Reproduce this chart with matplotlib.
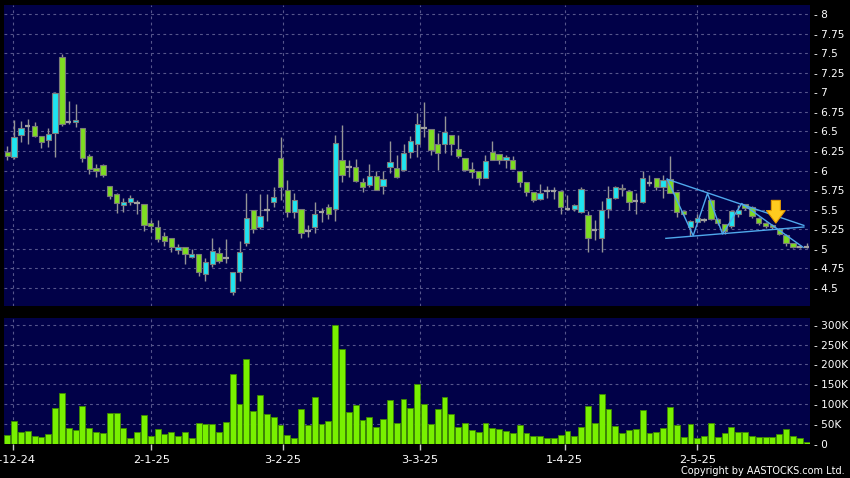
import matplotlib
matplotlib.use("Agg")
import matplotlib.pyplot as plt
import numpy as np

# ---------------- data ----------------
opens = [6.24, 6.17, 6.45, 6.57, 6.57, 6.44, 6.39, 6.48, 7.45, 6.62,
         6.62, 6.54, 6.19, 6.03, 6.07, 5.80, 5.70, 5.56, 5.60, 5.59,
         5.58, 5.33, 5.28, 5.17, 5.14, 4.98, 5.03, 4.90, 4.93, 4.68,
         4.81, 4.95, 4.88, 4.45, 4.70, 5.08, 5.50, 5.28, 5.50, 5.60,
         6.16, 5.75, 5.47, 5.51, 5.23, 5.28, 5.47, 5.53, 5.51, 6.14,
         6.05, 6.04, 5.86, 5.82, 5.93, 5.80, 6.05, 6.03, 6.01, 6.24,
         6.34, 6.54, 6.53, 6.34, 6.34, 6.45, 6.28, 6.16, 6.02, 5.99,
         5.91, 6.24, 6.21, 6.13, 6.14, 6.00, 5.85, 5.73, 5.64, 5.74,
         5.74, 5.74, 5.51, 5.51, 5.47, 5.43, 5.24, 5.14, 5.51, 5.65,
         5.78, 5.74, 5.61, 5.60, 5.84, 5.90, 5.79, 5.89, 5.73, 5.48,
         5.28, 5.34, 5.37, 5.62, 5.38, 5.32, 5.29, 5.44, 5.57, 5.54,
         5.40, 5.33, 5.31, 5.26, 5.18, 5.07, 5.02, 5.03]
highs = [6.32, 6.65, 6.63, 6.66, 6.62, 6.44, 6.54, 6.99, 7.49, 6.89,
         6.85, 6.54, 6.21, 6.09, 6.08, 5.80, 5.71, 5.65, 5.69, 5.62,
         5.58, 5.37, 5.37, 5.21, 5.14, 5.06, 5.03, 5.00, 4.93, 4.89,
         5.14, 5.03, 5.13, 4.71, 5.10, 5.71, 5.50, 5.70, 5.70, 5.79,
         6.43, 5.88, 5.71, 5.51, 5.31, 5.60, 5.52, 5.58, 6.45, 6.58,
         6.14, 6.15, 5.91, 6.08, 5.99, 5.99, 6.38, 6.20, 6.34, 6.44,
         6.73, 6.88, 6.53, 6.48, 6.70, 6.45, 6.46, 6.16, 6.11, 5.99,
         6.20, 6.38, 6.21, 6.20, 6.19, 6.00, 5.85, 5.73, 5.83, 5.80,
         5.79, 5.74, 5.69, 5.58, 5.79, 5.48, 5.37, 5.61, 5.80, 5.80,
         5.83, 5.75, 5.72, 5.99, 5.95, 5.90, 5.95, 6.19, 5.73, 5.49,
         5.37, 5.45, 5.40, 5.64, 5.40, 5.32, 5.50, 5.56, 5.58, 5.55,
         5.41, 5.35, 5.32, 5.27, 5.19, 5.08, 5.04, 5.07]
lows = [6.13, 6.15, 6.36, 6.34, 6.43, 6.29, 6.30, 6.18, 6.57, 6.60,
        6.56, 6.11, 5.96, 5.92, 5.92, 5.64, 5.46, 5.47, 5.56, 5.45,
        5.23, 5.22, 5.09, 5.04, 4.96, 4.93, 4.81, 4.88, 4.65, 4.59,
        4.77, 4.82, 4.82, 4.41, 4.59, 5.04, 5.20, 5.26, 5.36, 5.53,
        5.62, 5.41, 5.40, 5.14, 5.15, 5.20, 5.34, 5.38, 5.36, 5.85,
        5.92, 5.85, 5.73, 5.79, 5.75, 5.70, 5.97, 5.90, 6.00, 6.16,
        6.18, 6.43, 6.20, 6.01, 6.22, 6.20, 6.16, 6.00, 5.91, 5.81,
        5.90, 6.13, 6.08, 6.03, 6.02, 5.79, 5.67, 5.60, 5.62, 5.65,
        5.64, 5.45, 5.50, 5.48, 5.46, 4.96, 5.11, 4.96, 5.39, 5.64,
        5.67, 5.50, 5.45, 5.59, 5.80, 5.75, 5.65, 5.71, 5.41, 5.43,
        5.16, 5.33, 5.34, 5.37, 5.31, 5.19, 5.27, 5.41, 5.50, 5.40,
        5.30, 5.27, 5.26, 5.18, 5.04, 5.01, 5.01, 5.01]
closes = [6.19, 6.43, 6.55, 6.57, 6.44, 6.37, 6.47, 6.99, 6.60, 6.62,
          6.65, 6.16, 6.02, 5.99, 5.95, 5.67, 5.59, 5.60, 5.65, 5.59,
          5.31, 5.29, 5.13, 5.10, 5.03, 5.03, 4.93, 4.93, 4.70, 4.83,
          4.97, 4.84, 4.88, 4.71, 4.96, 5.40, 5.26, 5.42, 5.50, 5.66,
          5.79, 5.47, 5.63, 5.20, 5.23, 5.44, 5.47, 5.44, 6.35, 5.95,
          6.05, 5.87, 5.79, 5.93, 5.75, 5.89, 6.11, 5.92, 6.23, 6.38,
          6.60, 6.54, 6.26, 6.22, 6.49, 6.34, 6.19, 6.01, 5.98, 5.90,
          6.12, 6.14, 6.14, 6.17, 6.02, 5.85, 5.73, 5.62, 5.71, 5.74,
          5.74, 5.54, 5.51, 5.56, 5.77, 5.14, 5.24, 5.50, 5.65, 5.79,
          5.76, 5.60, 5.61, 5.90, 5.84, 5.79, 5.88, 5.72, 5.47, 5.44,
          5.36, 5.39, 5.37, 5.38, 5.33, 5.23, 5.49, 5.50, 5.52, 5.42,
          5.33, 5.29, 5.28, 5.19, 5.07, 5.03, 5.02, 5.03]
volumes_k = [22, 56, 30, 32, 18, 16, 24, 89, 127, 38,
             34, 94, 40, 28, 26, 76, 76, 38, 15, 28,
             72, 19, 36, 25, 30, 19, 28, 15, 51, 48,
             49, 29, 55, 176, 99, 213, 82, 122, 75, 68,
             46, 21, 15, 86, 46, 117, 49, 57, 300, 238,
             79, 96, 59, 68, 41, 61, 110, 52, 112, 90,
             150, 100, 48, 86, 118, 74, 41, 53, 33, 29,
             52, 39, 36, 32, 26, 46, 26, 19, 19, 15,
             14, 22, 32, 20, 41, 95, 52, 124, 87, 43,
             27, 33, 36, 85, 27, 29, 39, 92, 46, 16,
             49, 14, 20, 51, 16, 27, 41, 30, 30, 18,
             16, 17, 16, 25, 36, 19, 14, 5]

date_tick_pos = [0.9, 21.1, 40.3, 60.4, 81.6, 101.0]
date_tick_labels = ['2-12-24', '2-1-25', '3-2-25', '3-3-25', '1-4-25', '2-5-25']
price_ticks = [4.5, 4.75, 5, 5.25, 5.5, 5.75, 6, 6.25, 6.5, 6.75, 7, 7.25, 7.5, 7.75, 8]
vol_ticks = [0, 50000, 100000, 150000, 200000, 250000, 300000]
vol_tick_labels = ['0', '50K', '100K', '150K', '200K', '250K', '300K']

# trend annotations (index, price)
upper_line_x = [96.6, 116.6]
upper_line_y = [5.89, 5.30]
lower_line_x = [96.4, 116.6]
lower_line_y = [5.135, 5.28]
zigzag_x = [96.6, 100.4, 102.5, 104.7, 107.5, 116.5]
zigzag_y = [5.89, 5.17, 5.71, 5.19, 5.58, 5.02]
arrow_x = 112.5
arrow_y_from = 5.62
arrow_y_to = 5.33

# ---------------- style ----------------
BG = '#010148'
GRID = '#56568C'
GREEN = '#7EDC22'
CYAN = '#20E4F0'
WICK = '#959595'
EDGE = '#7A7A7A'
VOLG = '#78F000'
VOLE = '#3E8A00'
TXT = '#FFFFFF'

W, H = 850, 478
fig = plt.figure(figsize=(W / 100, H / 100), dpi=100, facecolor='black')

def frac(x0, y0, x1, y1):
    return [x0 / W, 1 - y1 / H, (x1 - x0) / W, (y1 - y0) / H]

axp = fig.add_axes(frac(4, 5, 810, 306))
axv = fig.add_axes(frac(4, 318, 810, 443.5))

xs = np.arange(len(opens))
o = np.array(opens); h = np.array(highs); l = np.array(lows); c = np.array(closes)
XMIN, XMAX = -0.48, 117.5

for ax in (axp, axv):
    ax.set_facecolor(BG)
    ax.set_xlim(XMIN, XMAX)
    for s in ax.spines.values():
        s.set_visible(False)
    ax.yaxis.tick_right()
    ax.set_axisbelow(True)

# price panel
axp.set_ylim(4.271, 8.115)
axp.set_yticks(price_ticks)
axp.set_yticklabels(['- ' + ('%g' % t) for t in price_ticks], color=TXT, fontsize=7.6)
axp.tick_params(axis='y', length=0, pad=3)
axp.set_xticks(date_tick_pos)
axp.tick_params(axis='x', length=0, labelbottom=False)
axp.grid(True, color=GRID, linestyle=(0, (2.5, 3)), linewidth=0.8)

axp.vlines(xs, l, h, color=WICK, linewidth=1, zorder=2)
doji = np.abs(c - o) < 0.005
up = (c > o) & ~doji
dn = (c < o) & ~doji
bw = 0.78
axp.bar(xs[up], (c - o)[up], bottom=o[up], width=bw, color=CYAN, edgecolor=EDGE, linewidth=0.8, zorder=3)
axp.bar(xs[dn], (o - c)[dn], bottom=c[dn], width=bw, color=GREEN, edgecolor=EDGE, linewidth=0.8, zorder=3)
axp.hlines(c[doji], xs[doji] - bw / 2, xs[doji] + bw / 2, color='#A0A0A0', linewidth=1.6, zorder=3)

TL = '#4FA8EC'
axp.plot(upper_line_x, upper_line_y, color=TL, linewidth=1, zorder=4)
axp.plot(lower_line_x, lower_line_y, color=TL, linewidth=1, zorder=4)
axp.plot(zigzag_x, zigzag_y, color=TL, linewidth=1, zorder=4)
axp.annotate('', xy=(arrow_x, arrow_y_to), xytext=(arrow_x, arrow_y_from),
             arrowprops=dict(arrowstyle='simple,head_width=1.35,head_length=0.9,tail_width=0.65',
                             fc='#FFCB1F', ec='#E39A00', lw=0.8, shrinkA=0, shrinkB=0),
             zorder=5)

# volume panel
vols = np.array(volumes_k) * 1000.0
axv.set_ylim(0, 317000)
axv.set_yticks(vol_ticks)
axv.set_yticklabels(['- ' + t for t in vol_tick_labels], color=TXT, fontsize=7.6)
axv.tick_params(axis='y', length=0, pad=3)
axv.set_xticks(date_tick_pos)
axv.set_xticklabels(date_tick_labels, color=TXT, fontsize=8.2)
axv.tick_params(axis='x', length=4, width=1, color='#C8C8C8', pad=4, direction='out')
axv.grid(True, color=GRID, linestyle=(0, (2.5, 3)), linewidth=0.8)
axv.bar(xs, vols, width=0.86, color=VOLG, edgecolor=VOLE, linewidth=0.6, zorder=3)

fig.text(845 / W, 1 - 471 / H, 'Copyright by AASTOCKS.com Ltd.', color=TXT,
         fontsize=7.0, ha='right', va='center')

fig.savefig('out.png', dpi=100, facecolor='black')
